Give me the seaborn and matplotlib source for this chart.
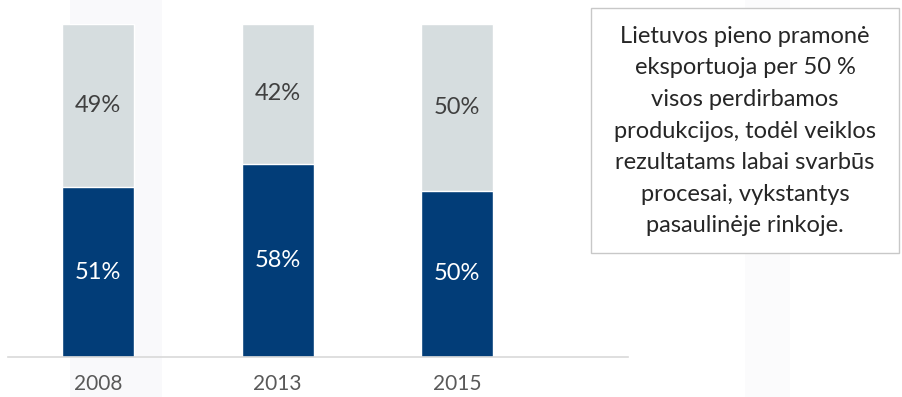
import numpy as np
import pandas as pd
import matplotlib
matplotlib.use('Agg')
import matplotlib.pyplot as plt
import seaborn as sns
from matplotlib.patches import Rectangle

# ── Data ──────────────────────────────────────────────────────
years = ['2008', '2013', '2015']
export_share = [51, 58, 50]     # dark blue, bottom
domestic_share = [49, 42, 50]   # light grey, top

note = ("Lietuvos pieno pramonė\n"
        "eksportuoja per 50 %\n"
        "visos perdirbamos\n"
        "produkcijos, todėl veiklos\n"
        "rezultatams labai svarbūs\n"
        "procesai, vykstantys\n"
        "pasaulinėje rinkoje.")

BLUE = '#023d78'
GREY = '#d6dddf'

sns.set_theme(style='white')
plt.rcParams['font.family'] = ['Lato', 'DejaVu Sans']

df = pd.DataFrame({'year': years,
                   'export': export_share,
                   'domestic': domestic_share})
df['total'] = df['export'] + df['domestic']

W, H = 903, 397
fig = plt.figure(figsize=(W / 100, H / 100), dpi=100)

# faint background bands (watermark), behind everything
bg = fig.add_axes([0, 0, 1, 1], zorder=-1)
bg.set_xlim(0, W)
bg.set_ylim(H, 0)
bg.axis('off')
bg.add_patch(Rectangle((70, 0), 92, H, facecolor='#f9f9fb', edgecolor='none'))
bg.add_patch(Rectangle((745, 0), 45, H, facecolor='#fbfbfc', edgecolor='none'))

ax = fig.add_axes([8 / W, 40 / H, 620 / W, 333 / H])
ax.patch.set_alpha(0)

# ── Stacked bars ──────────────────────────────────────────────
sns.barplot(data=df, x='year', y='total', color=GREY, width=0.4,
            saturation=1, ax=ax)
sns.barplot(data=df, x='year', y='export', color=BLUE, width=0.4,
            saturation=1, ax=ax)

for i, (e, d) in enumerate(zip(export_share, domestic_share)):
    ax.text(i, e / 2, f'{e}%', ha='center', va='center',
            color='white', fontsize=17)
    ax.text(i, e + d / 2, f'{d}%', ha='center', va='center',
            color='#404040', fontsize=17)

ax.set_xlim(-0.5, 2.95)
ax.set_ylim(0, 100)
ax.set_xlabel('')
ax.set_ylabel('')
ax.set_yticks([])
ax.tick_params(axis='x', length=0, pad=12, labelsize=15, labelcolor='#595959')
for s in ['top', 'right', 'left']:
    ax.spines[s].set_visible(False)
ax.spines['bottom'].set_color('#d9d9d9')
ax.spines['bottom'].set_linewidth(1.2)

# ── Text box ──────────────────────────────────────────────────
bg.add_patch(Rectangle((591, 8), 308, 245, facecolor='white',
                       edgecolor='#c8c8c8', linewidth=1))
bg.text(745, 131, note, ha='center', va='center',
        fontsize=17, color='#262626', linespacing=1.62)

plt.savefig('out.png', dpi=100)
plt.close()
